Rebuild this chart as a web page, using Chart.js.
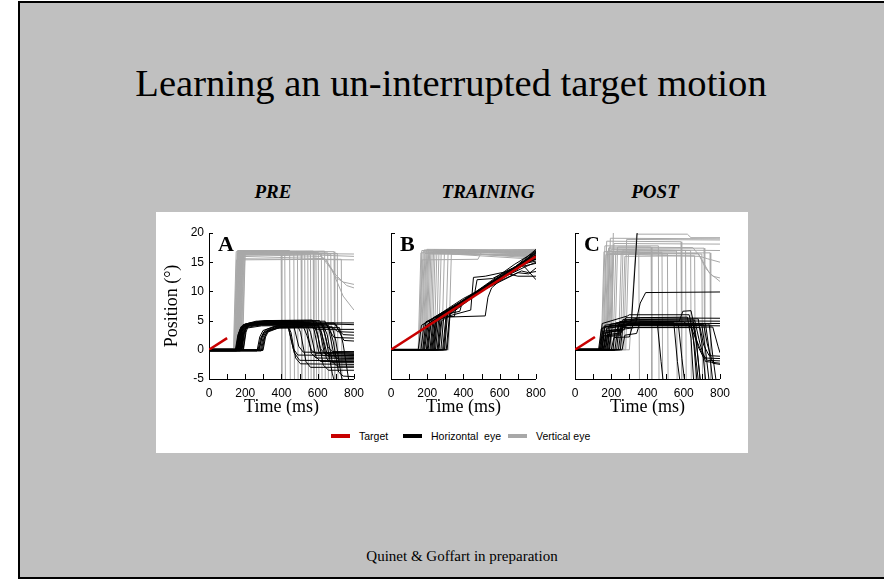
<!DOCTYPE html>
<html>
<head>
<meta charset="utf-8">
<title>Learning an un-interrupted target motion</title>
<script src="https://cdn.jsdelivr.net/npm/chart.js@4.4.0/dist/chart.umd.min.js"></script>
<style>
  body { margin: 0; width: 884px; height: 579px; overflow: hidden; position: relative; background: #fff; font-family: 'Liberation Serif', 'Times New Roman', serif; }
  .slide { position: absolute; left: 18px; top: 1px; width: 880px; height: 578px; box-sizing: border-box; border: 2px solid #000; background: #c0c0c0; }
  .title { position: absolute; left: 18px; width: 866px; top: 64px; text-align: center; font-size: 38.6px; line-height: 38px; color: #000; }
  .phase { position: absolute; width: 200px; top: 182px; text-align: center; font-size: 19px; line-height: 19px; font-weight: bold; font-style: italic; }
  .panel { position: absolute; left: 156px; top: 212px; width: 592px; height: 241px; background: #fff; }
  canvas { position: absolute; top: 212px; }
  .key { position: absolute; top: 434px; width: 19px; height: 4px; }
  .keytext { position: absolute; top: 430px; font-family: 'Liberation Sans', Arial, sans-serif; font-size: 10.5px; line-height: 12px; white-space: pre; }
  .footer { position: absolute; left: 262px; width: 400px; top: 549px; text-align: center; font-size: 15px; line-height: 15px; }
</style>
</head>
<body>
<div class="slide"></div>
<div class="title">Learning an un-interrupted target motion</div>
<div class="phase" style="left:173px">PRE</div>
<div class="phase" style="left:388px">TRAINING</div>
<div class="phase" style="left:555px">POST</div>
<div class="panel"></div>
<canvas id="preChart" width="215" height="215" style="left:156px"></canvas>
<canvas id="trainChart" width="182" height="215" style="left:371px"></canvas>
<canvas id="postChart" width="182" height="215" style="left:555px"></canvas>
<div class="key" style="left:331px;background:#c80000"></div>
<div class="keytext" style="left:359px">Target</div>
<div class="key" style="left:403px;background:#000"></div>
<div class="keytext" style="left:431px">Horizontal  eye</div>
<div class="key" style="left:508px;background:#a8a8a8"></div>
<div class="keytext" style="left:536px">Vertical eye</div>
<div class="footer">Quinet &amp; Goffart in preparation</div>

<script>
// axis ticks
const timeTicks = [0, 200, 400, 600, 800];
const timeMarks = [0, 100, 200, 300, 400, 500, 600, 700, 800];
const positionTicks = [-5, 0, 5, 10, 15, 20];

// each trace is a flat list of (time ms, position deg) pairs

// PRE
const preTarget = [[0, 0, 100, 2]];
const preHorizontal = [
  [0,-0.1, 148,-0.1, 162,2.6, 178,4.0, 240,4.5, 420,4.7, 440,3.6, 465,0.2, 490,-0.9, 800,-1.0],
  [0,-0.2, 153,-0.2, 167,2.8, 183,3.9, 250,4.3, 430,4.4, 452,3.0, 478,-1.4, 505,-2.4, 800,-2.5],
  [0,0, 158,0, 172,3.0, 188,4.3, 260,4.9, 450,5.0, 470,3.8, 495,0.6, 520,-0.4, 800,-0.5],
  [0,-0.1, 163,-0.1, 177,2.7, 193,4.1, 270,4.5, 482,4.6, 505,3.0, 535,-2.0, 560,-3.0, 800,-3.0],
  [0,0, 168,0, 182,3.1, 198,4.4, 280,4.9, 520,4.9, 540,3.7, 565,-0.6, 590,-1.4, 800,-1.5],
  [0,-0.2, 173,-0.2, 187,2.6, 203,3.8, 290,4.3, 540,4.4, 560,3.0, 590,-1.2, 615,-2.0, 800,-2.0],
  [0,0, 178,0, 192,3.0, 208,4.2, 300,4.6, 558,4.7, 580,3.4, 605,-0.3, 630,-1.0, 800,-1.1],
  [0,0.1, 183,0.1, 197,3.2, 213,4.5, 310,5.0, 570,5.1, 590,4.0, 615,0.2, 640,-0.7, 800,-0.8],
  [0,-0.1, 145,-0.1, 159,2.5, 175,3.8, 240,4.2, 578,4.3, 600,2.5, 630,-2.6, 660,-3.5, 800,-3.5],
  [0,0, 160,0, 174,2.9, 190,4.2, 270,4.7, 590,4.8, 610,3.5, 635,-0.4, 660,-1.2, 800,-1.3],
  [0,-0.1, 170,-0.1, 184,2.7, 200,4.0, 280,4.4, 600,4.5, 620,3.1, 648,-1.5, 675,-2.2, 800,-2.2],
  [0,0, 188,0, 202,3.3, 218,4.5, 320,5.0, 610,5.0, 630,3.9, 655,0.5, 680,-0.3, 800,-0.3],
  [0,0, 150,0, 164,2.8, 180,4.0, 250,4.5, 620,4.6, 645,2.0, 680,-4.0, 705,-7.0],
  [0,-0.1, 165,-0.1, 179,3.0, 195,4.3, 280,4.8, 640,4.9, 662,3.4, 690,-1.0, 715,-1.7, 800,-1.7],
  [0,0, 175,0, 189,2.6, 205,3.7, 290,4.1, 660,4.2, 685,1.5, 715,-3.8, 740,-4.5, 800,-4.6],
  [0,0.1, 180,0.1, 194,3.1, 210,4.3, 300,4.6, 800,4.6],
  [0,0, 155,0, 169,2.7, 185,3.9, 260,4.3, 648,4.4, 668,3.2, 690,2.1, 800,2.0],
  [0,-0.2, 265,-0.2, 280,2.2, 298,3.3, 360,4.0, 600,4.1, 622,2.8, 650,-0.5, 675,-1.0, 800,-1.0],
  [0,-0.1, 270,-0.1, 285,2.0, 303,3.1, 370,3.8, 560,3.9, 600,3.5, 800,3.5],
  [0,0, 278,0, 293,2.3, 311,3.4, 380,4.2, 630,4.3, 652,2.6, 680,-2.0, 705,-2.8, 800,-2.8],
  [0,-0.2, 288,-0.2, 303,2.0, 321,3.0, 390,3.8, 680,3.9, 700,1.5, 730,-4.5, 750,-7.0],
  [0,0, 284,0, 299,2.2, 317,3.2, 385,4.0, 680,3.9, 710,3.1, 800,3.0],
  [0,-0.1, 294,-0.1, 309,2.4, 327,3.5, 400,4.3, 700,4.4, 720,3.0, 745,1.6, 800,1.5],
  [0,0, 275,0, 290,2.0, 308,3.0, 375,3.7, 720,3.8, 740,1.0, 770,-5.0, 785,-7.0],
  [0,0.1, 160,0.1, 174,2.9, 190,4.1, 270,4.5, 690,4.6, 710,3.6, 740,2.6, 800,2.5],
  [0,-0.1, 298,-0.1, 312,2.2, 330,3.3, 400,3.9, 520,4.0, 540,2.5, 565,-0.1, 590,-0.6, 800,-0.6],
  [0,0, 190,0, 204,3.0, 220,4.4, 330,4.9, 420,4.9, 440,3.5, 470,-0.5, 500,-1.8, 800,-1.9],
  [0,0, 172,0, 186,3.1, 202,4.4, 300,4.8, 800,4.3]
];
const preVertical = [
  [0,0.1, 135,0.1, 150,16.8, 398,16.9, 402,-8],
  [0,0, 140,0, 156,16.5, 418,16.6, 422,-8],
  [0,0.2, 142,0.2, 157,17.0, 445,17.0, 449,-8],
  [0,0, 145,0, 160,16.6, 468,16.7, 472,-8],
  [0,0.1, 147,0.1, 163,16.9, 488,16.8, 492,-8],
  [0,-0.1, 150,-0.1, 166,16.4, 508,16.5, 512,-8],
  [0,0, 152,0, 167,16.7, 528,16.8, 532,-8],
  [0,0.1, 155,0.1, 171,16.8, 545,16.8, 549,-8],
  [0,0, 157,0, 173,16.2, 560,16.3, 564,-8],
  [0,0.2, 160,0.2, 175,16.9, 575,16.9, 579,-8],
  [0,0, 162,0, 178,16.5, 590,16.6, 594,-8],
  [0,0.1, 165,0.1, 181,16.7, 603,16.7, 607,-8],
  [0,0, 168,0, 184,16.3, 620,16.4, 624,-8],
  [0,-0.1, 170,-0.1, 186,16.8, 638,16.9, 642,-8],
  [0,0, 172,0, 188,16.6, 655,16.6, 659,-8],
  [0,0.1, 175,0.1, 191,16.4, 672,16.4, 676,-8],
  [0,0, 178,0, 194,16.9, 690,16.8, 694,-8],
  [0,0.2, 182,0.2, 198,16.5, 708,16.5, 712,-8],
  [0,0, 138,0, 152,15.4, 730,15.5, 734,-8],
  [0,0, 145,0, 160,16.6, 800,16.4],
  [0,0.1, 150,0.1, 165,15.6, 800,15.4],
  [0,0, 155,0, 170,16.8, 600,16.6, 650,15.2, 700,12.4, 740,11.6, 800,11.2],
  [0,0, 160,0, 176,16.3, 620,16.0, 680,13.6, 740,9.2, 800,6.8],
  [0,0.1, 165,0.1, 181,16.0, 640,15.6, 700,12.8, 760,11.0, 800,10.6],
  [0,0, 185,0, 200,16.7, 580,16.6, 620,16.2, 800,16.0]
];

// TRAINING
const trainTarget = [[0, 0, 800, 16]];
const trainHorizontal = [
  [0,0, 150,0, 168,4.2, 400,8.2, 600,12.0, 800,16.2],
  [0,0, 165,0, 183,4.5, 350,7.5, 500,10.3, 650,13.2, 800,15.8],
  [0,0, 175,0, 193,4.8, 300,6.5, 450,9.6, 600,12.5, 800,16.5],
  [0,0, 185,0, 203,4.0, 350,7.2, 550,11.0, 700,14.5, 800,15.2],
  [0,0, 195,0, 213,5.0, 400,8.8, 560,11.4, 700,14.2, 800,17.0],
  [0,0, 205,0, 223,5.2, 330,6.8, 480,10.0, 640,13.5, 800,16.0],
  [0,0, 215,0, 233,5.5, 380,8.0, 520,10.8, 680,14.0, 800,14.8],
  [0,0, 225,0, 243,4.6, 350,7.3, 500,10.4, 700,13.8, 800,16.8],
  [0,0, 235,0, 253,5.8, 400,8.5, 560,11.8, 800,16.3],
  [0,0, 245,0, 263,5.0, 420,8.7, 600,12.2, 760,15.0, 800,15.5],
  [0,0, 255,0, 270,5.2, 300,5.6, 520,5.8, 535,9.0, 555,10.6, 640,12.9, 800,16.0],
  [0,0, 265,0, 280,5.0, 320,5.8, 440,6.8, 455,12.4, 520,12.6, 640,13.4, 800,16.2],
  [0,0, 240,0, 255,5.4, 330,6.8, 460,9.4, 475,12.0, 560,12.2, 640,13.5, 800,15.6],
  [0,0, 275,0, 293,6.2, 450,9.2, 620,12.5, 800,17.2],
  [0,0, 285,0, 303,5.6, 420,8.5, 580,11.5, 720,13.5, 760,13.2, 800,13.4],
  [0,0, 295,0, 313,6.4, 460,9.6, 640,13.0, 800,16.6],
  [0,0, 305,0, 323,6.0, 400,7.8, 600,12.4, 650,13.0, 700,12.6, 800,12.6],
  [0,0, 310,0, 328,6.8, 480,10.2, 680,14.6, 800,16.9],
  [0,0, 180,0, 198,4.3, 280,6.0, 500,10.1, 700,13.2, 760,13.0, 800,14.0],
  [0,0, 200,0, 218,4.7, 360,7.4, 540,10.9, 740,14.9, 800,15.5],
  [0,0, 220,0, 238,5.1, 300,5.7, 350,5.7, 360,7.6, 520,10.6, 660,13.7, 800,16.1],
  [0,0, 230,0, 248,5.4, 420,8.8, 600,12.1, 740,14.2, 800,15.0],
  [0,0, 260,0, 278,5.7, 440,9.0, 620,12.8, 800,16.7],
  [0,0, 290,0, 308,6.1, 380,6.6, 395,8.4, 560,11.6, 720,14.8, 800,12.0]
];
const trainVertical = [
  [0,0, 150,0, 165,16.6, 800,16.8],
  [0,0.1, 155,0.1, 170,17.0, 800,16.9],
  [0,0, 158,0, 172,15.4, 480,15.5, 500,16.8, 800,16.6],
  [0,0, 162,0, 177,16.8, 800,16.4],
  [0,-0.1, 168,-0.1, 183,17.1, 800,17.0],
  [0,0, 172,0, 187,16.5, 800,16.2],
  [0,0.1, 178,0.1, 193,16.9, 800,16.7],
  [0,0, 183,0, 198,17.2, 800,17.1],
  [0,0, 188,0, 203,16.7, 800,16.0],
  [0,0.1, 193,0.1, 208,17.0, 800,16.5],
  [0,0, 198,0, 213,16.4, 800,16.3],
  [0,0, 205,0, 220,16.9, 800,15.7],
  [0,-0.1, 212,-0.1, 227,16.6, 800,16.9],
  [0,0, 220,0, 235,17.1, 800,16.6],
  [0,0, 228,0, 243,16.8, 800,17.2],
  [0,0.1, 238,0.1, 253,16.5, 800,16.1],
  [0,0, 250,0, 265,17.0, 800,16.8],
  [0,0, 262,0, 277,16.7, 800,15.9],
  [0,0, 280,0, 295,16.9, 800,16.4],
  [0,0, 300,0, 315,16.6, 800,16.7],
  [0,0, 318,0, 333,16.4, 800,15.5]
];

// POST
const postTarget = [[0, 0, 110, 2.2]];
const postHorizontal = [
  [0,0, 130,0, 145,3.6, 200,4.2, 455,4.3, 475,-2.0, 495,-8],
  [0,0.1, 135,0.1, 150,2.8, 230,3.2, 250,4.6, 545,4.7, 565,-2.0, 590,-8],
  [0,0, 140,0, 155,3.9, 260,4.4, 570,4.4, 590,-1.5, 615,-8],
  [0,-0.1, 145,-0.1, 160,2.4, 240,2.6, 255,4.1, 640,4.1, 660,0.5, 690,-8],
  [0,0, 150,0, 165,4.2, 300,4.8, 650,4.8, 670,1.0, 700,-8],
  [0,0, 155,0, 170,3.0, 250,3.3, 265,5.2, 680,5.3, 700,1.0, 730,-8],
  [0,0.1, 160,0.1, 175,3.7, 280,4.2, 700,4.2, 720,0.0, 750,-8],
  [0,0, 165,0, 180,2.6, 255,2.9, 270,4.6, 720,4.5, 740,0.0, 770,-8],
  [0,0, 170,0, 185,4.0, 300,4.5, 740,4.4, 760,-1.0, 790,-8],
  [0,-0.1, 175,-0.1, 190,3.3, 260,3.6, 280,5.5, 800,5.4],
  [0,0, 180,0, 195,4.4, 320,5.0, 800,4.9],
  [0,0, 185,0, 200,3.1, 270,3.4, 290,4.6, 800,4.5],
  [0,0.1, 190,0.1, 205,3.8, 330,4.3, 800,4.1],
  [0,0, 200,0, 215,2.1, 300,2.2, 320,4.3, 650,4.4, 680,0.5, 710,-1.4, 800,-1.5],
  [0,0, 210,0, 225,4.6, 350,5.2, 660,5.1, 690,1.0, 720,-2.0, 800,-2.3],
  [0,-0.1, 220,-0.1, 235,3.4, 330,3.8, 690,3.8, 710,0.8, 740,-1.0, 800,-1.1],
  [0,0, 230,0, 245,4.8, 360,5.5, 620,5.6, 640,2.0, 660,-8],
  [0,0, 240,0, 255,3.6, 300,4.6, 312,5.0, 345,21],
  [0,0, 250,0, 265,4.2, 335,4.6, 360,8.0, 390,9.8, 800,9.9],
  [0,0, 260,0, 275,2.5, 340,2.8, 360,4.8, 575,4.9, 595,6.6, 640,6.7, 665,3.0, 700,-8],
  [0,0, 135,0, 150,4.5, 290,5.8, 300,6.0, 630,6.0, 650,3.0, 680,-8],
  [0,0.1, 142,0.1, 157,3.2, 230,3.4, 250,4.8, 600,4.8, 640,3.8, 700,-0.5, 730,-1.8, 800,-1.9],
  [0,0, 148,0, 163,3.9, 290,4.3, 710,4.3, 730,1.0, 760,-2.3, 800,-2.5],
  [0,0, 158,0, 173,2.3, 245,2.4, 255,3.8, 760,3.9, 790,0.5, 800,-0.5]
];
const postVertical = [
  [0,0, 145,0, 160,16.8, 352,16.9, 356,-8],
  [0,0.1, 150,0.1, 165,17.8, 460,17.8, 464,-8],
  [0,0, 155,0, 170,16.3, 510,16.4, 514,-8],
  [0,0, 160,0, 175,18.6, 585,18.5, 589,-8],
  [0,-0.1, 165,-0.1, 180,16.9, 638,17.0, 642,-8],
  [0,0, 170,0, 185,17.4, 712,17.4, 716,-8],
  [0,0, 175,0, 190,16.5, 745,16.6, 749,-8],
  [0,0.1, 180,0.1, 195,19.1, 800,19.0],
  [0,0, 185,0, 200,17.2, 800,17.0],
  [0,0, 190,0, 205,16.7, 680,16.5, 720,14.0, 760,12.6, 800,12.3],
  [0,0, 195,0, 210,16.4, 690,16.0, 740,13.2, 800,11.7],
  [0,0.1, 200,0.1, 215,18.2, 800,18.1],
  [0,0, 200,0, 212,21],
  [0,0, 210,0, 225,16.9, 560,16.9, 564,-8],
  [0,0, 220,0, 235,17.6, 420,17.6, 424,-8],
  [0,0, 240,0, 255,16.6, 480,16.7, 484,-8],
  [0,0, 250,0, 265,17.1, 610,17.0, 614,-8],
  [0,0, 260,0, 275,16.0, 660,16.1, 664,-8],
  [0,0.1, 270,0.1, 285,18.9, 800,18.8],
  [0,0, 280,0, 295,16.5, 700,16.4, 704,-8],
  [0,0, 300,0, 340,19.8, 620,19.8, 640,19.2, 800,19.2],
  [0,0, 175,0, 190,17.6, 650,17.5, 690,16.0, 730,15.6, 800,15.0]
];

const RED = '#c80000';
const BLACK = '#000000';
const GRAY = '#a8a8a8';

function toSets(traces, color, width, order) {
  return traces.map(tr => {
    const pts = [];
    for (let i = 0; i < tr.length; i += 2) pts.push({ x: tr[i], y: tr[i + 1] });
    return { data: pts, borderColor: color, borderWidth: width, pointRadius: 0, fill: false, tension: 0, order: order };
  });
}

// small tick marks pointing into the plot, plus the panel letter
const inwardTicks = {
  id: 'inwardTicks',
  afterDraw(chart) {
    const { ctx, chartArea, scales } = chart;
    ctx.save();
    ctx.strokeStyle = '#000';
    ctx.lineWidth = 1;
    ctx.beginPath();
    for (const t of timeMarks) {
      const px = Math.round(scales.x.getPixelForValue(t)) + 0.5;
      ctx.moveTo(px, chartArea.bottom);
      ctx.lineTo(px, chartArea.bottom - 5);
    }
    for (const v of positionTicks) {
      const py = Math.round(scales.y.getPixelForValue(v)) + 0.5;
      ctx.moveTo(chartArea.left, py);
      ctx.lineTo(chartArea.left + 4, py);
    }
    ctx.stroke();
    const letter = chart.options.plugins.inwardTicks.letter;
    ctx.fillStyle = '#000';
    ctx.font = 'bold 22px "Liberation Serif", "Times New Roman", serif';
    ctx.textBaseline = 'alphabetic';
    ctx.fillText(letter, chartArea.left + 9, chartArea.top + 18);
    ctx.restore();
  }
};

function makePanel(id, letter, target, horizontal, vertical, showY) {
  const yw = showY ? 53 : 20;
  const datasets = [].concat(
    toSets(target, RED, 2.5, 0),
    toSets(horizontal, BLACK, 1, 1),
    toSets(vertical, GRAY, 1, 2)
  );
  return new Chart(document.getElementById(id), {
    type: 'line',
    data: { datasets: datasets },
    plugins: [inwardTicks],
    options: {
      responsive: false,
      animation: false,
      devicePixelRatio: 1,
      events: [],
      layout: { padding: { top: 21, right: 14, left: 0, bottom: 0 } },
      plugins: {
        legend: { display: false },
        tooltip: { enabled: false },
        inwardTicks: { letter: letter }
      },
      scales: {
        x: {
          type: 'linear',
          min: 0,
          max: 800,
          afterBuildTicks: s => { s.ticks = timeTicks.map(v => ({ value: v })); },
          afterFit: s => { s.height = 48; },
          grid: { display: false, drawTicks: false, tickLength: 0 },
          border: { display: true, color: '#000', width: 1 },
          ticks: { color: '#000', padding: 7, maxRotation: 0, font: { family: 'Liberation Sans, Arial, sans-serif', size: 12 } },
          title: { display: true, text: 'Time (ms)', color: '#000', padding: { top: 0, bottom: 9 }, font: { family: 'Liberation Serif, Times New Roman, serif', size: 18 } }
        },
        y: {
          type: 'linear',
          min: -5,
          max: 20,
          afterBuildTicks: s => { s.ticks = positionTicks.map(v => ({ value: v })); },
          afterFit: s => { s.width = yw; },
          grid: { display: false, drawTicks: false, tickLength: 0 },
          border: { display: true, color: '#000', width: 1 },
          ticks: { display: showY, color: '#000', padding: 5, font: { family: 'Liberation Sans, Arial, sans-serif', size: 12 } },
          title: { display: showY, text: 'Position (°)', color: '#000', padding: { top: 5, bottom: 0 }, font: { family: 'Liberation Serif, Times New Roman, serif', size: 18 } }
        }
      }
    }
  });
}

makePanel('preChart', 'A', preTarget, preHorizontal, preVertical, true);
makePanel('trainChart', 'B', trainTarget, trainHorizontal, trainVertical, false);
makePanel('postChart', 'C', postTarget, postHorizontal, postVertical, false);
</script>
</body>
</html>
